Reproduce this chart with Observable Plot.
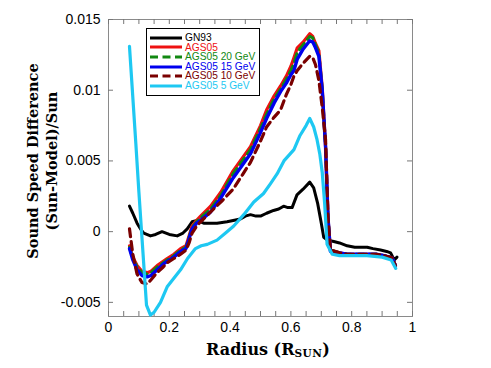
<!DOCTYPE html>
<html>
<head>
<meta charset="utf-8">
<script src="https://cdn.jsdelivr.net/npm/d3@7"></script>
<script src="https://cdn.jsdelivr.net/npm/@observablehq/plot@0.6"></script>
<style>
  body { margin: 0; background: white; }
  #wrap { position: relative; width: 491px; height: 368px; overflow: hidden; }
  #xlabel { position: absolute; left: 148px; width: 240px; top: 340px; text-align: center;
    font: bold 16px "DejaVu Serif", serif; color: #000; }
  #xlabel .sub { font-size: 10.5px; letter-spacing: 0.5px; vertical-align: -2px; }
  #legend { position: absolute; left: 146px; top: 28px; width: 112px; height: 62px;
    border: 1px solid #000; background: white; box-sizing: content-box; padding-top: 4px; }
  .row { display: flex; align-items: center; height: 9.6px; line-height: 9.6px; overflow: visible;
    font: 10.2px/9.6px "Liberation Sans", Arial, sans-serif; }
  .row span { line-height: 9.6px; height: 9.6px; display: block; }
  .row svg { margin-left: 3px; margin-right: 3px; }
</style>
</head>
<body>
<div id="wrap"></div>
<script>
// ---- data ----
const seriesNames = ["GN93", "AGS05", "AGS05 20 GeV", "AGS05 15 GeV", "AGS05 10 GeV", "AGS05 5 GeV"];

const rGN93 = [0.069, 0.08, 0.094, 0.105, 0.116, 0.138, 0.155, 0.176, 0.2, 0.226, 0.245, 0.259, 0.275, 0.292, 0.313, 0.357, 0.39, 0.434, 0.45, 0.467, 0.485, 0.5, 0.52, 0.543, 0.56, 0.576, 0.59, 0.604, 0.62, 0.64, 0.662, 0.675, 0.688, 0.70, 0.708, 0.72, 0.741, 0.76, 0.785, 0.81, 0.83, 0.851, 0.87, 0.895, 0.915, 0.928, 0.94, 0.949];
const vGN93 = [0.0018, 0.0013, 0.0006, 0.0002, -0.0001, -0.0003, -0.0002, 0.0000, -0.0002, -0.0003, -0.0001, 0.0002, 0.0007, 0.0008, 0.0006, 0.0006, 0.0007, 0.0009, 0.0011, 0.0012, 0.0011, 0.0011, 0.0013, 0.0015, 0.0016, 0.0018, 0.0017, 0.0017, 0.0026, 0.0030, 0.0035, 0.0031, 0.0020, 0.0006, -0.0004, -0.0006, -0.0007, -0.0008, -0.0010, -0.0011, -0.0011, -0.0011, -0.0012, -0.0013, -0.0014, -0.0015, -0.0020, -0.0018];

const rAGS = [0.069, 0.08, 0.094, 0.11, 0.127, 0.14, 0.16, 0.18, 0.193, 0.215, 0.237, 0.255, 0.265, 0.275, 0.29, 0.303, 0.336, 0.37, 0.41, 0.44, 0.467, 0.5, 0.52, 0.545, 0.566, 0.585, 0.6, 0.61, 0.621, 0.64, 0.662, 0.672, 0.681, 0.692, 0.703, 0.714, 0.722, 0.73, 0.76, 0.785, 0.82, 0.851, 0.88, 0.906, 0.933, 0.944];
const vAGS05 = [-0.0010, -0.0018, -0.0024, -0.0028, -0.0029, -0.0028, -0.0024, -0.0021, -0.0019, -0.0016, -0.0012, -0.0010, -0.0003, 0.0004, 0.0008, 0.0011, 0.0018, 0.0028, 0.0043, 0.0052, 0.0060, 0.0075, 0.0086, 0.0096, 0.0103, 0.0110, 0.0117, 0.0123, 0.0130, 0.0134, 0.0140, 0.0138, 0.0133, 0.0128, 0.0102, 0.0060, 0.0010, -0.0013, -0.0015, -0.0016, -0.0016, -0.0016, -0.0016, -0.0017, -0.00185, -0.0024];
const v20GeV = [-0.0011, -0.0019, -0.0025, -0.0029, -0.0030, -0.0029, -0.0025, -0.0022, -0.0020, -0.0017, -0.0013, -0.0011, -0.0004, 0.0003, 0.0007, 0.0010, 0.0016, 0.0026, 0.0041, 0.0050, 0.0058, 0.0073, 0.0083, 0.0094, 0.0101, 0.0108, 0.0114, 0.0119, 0.0127, 0.0132, 0.0138, 0.0137, 0.0132, 0.0126, 0.0101, 0.0060, 0.0010, -0.0013, -0.0015, -0.0016, -0.0016, -0.0016, -0.0016, -0.0017, -0.00185, -0.0024];
const v15GeV = [-0.0012, -0.0020, -0.0027, -0.0031, -0.0032, -0.0031, -0.0027, -0.0023, -0.0021, -0.0018, -0.0014, -0.0012, -0.0005, 0.0002, 0.0006, 0.0008, 0.0014, 0.0024, 0.0038, 0.0047, 0.0055, 0.0070, 0.0080, 0.0091, 0.0099, 0.0105, 0.0111, 0.0114, 0.0122, 0.0129, 0.0135, 0.0134, 0.0130, 0.0124, 0.0100, 0.0060, 0.0010, -0.0014, -0.0015, -0.0016, -0.0016, -0.0016, -0.0016, -0.0017, -0.00185, -0.0024];
const v10GeV = [0.0002, -0.0016, -0.0030, -0.0036, -0.0037, -0.0034, -0.0029, -0.0025, -0.0022, -0.0019, -0.0016, -0.0013, -0.0008, -0.0001, 0.0004, 0.0007, 0.0014, 0.0021, 0.0030, 0.0040, 0.0049, 0.0064, 0.0074, 0.0081, 0.0086, 0.0097, 0.0104, 0.0110, 0.0114, 0.0119, 0.0124, 0.0123, 0.0118, 0.0107, 0.0088, 0.0065, 0.0010, -0.0013, -0.0015, -0.0016, -0.0016, -0.0016, -0.0016, -0.0017, -0.00185, -0.0024];

const r5GeV = [0.069, 0.08, 0.09, 0.10, 0.11, 0.125, 0.138, 0.15, 0.171, 0.193, 0.215, 0.237, 0.26, 0.286, 0.305, 0.325, 0.357, 0.385, 0.412, 0.445, 0.478, 0.51, 0.533, 0.555, 0.577, 0.61, 0.63, 0.65, 0.662, 0.675, 0.686, 0.695, 0.703, 0.711, 0.719, 0.736, 0.76, 0.8, 0.85, 0.9, 0.93, 0.945];
const v5GeV = [0.0131, 0.0095, 0.0062, 0.0028, -0.0004, -0.0052, -0.0059, -0.0057, -0.0050, -0.0039, -0.0033, -0.0027, -0.0019, -0.0012, -0.0010, -0.0009, -0.0006, -0.0001, 0.0004, 0.0012, 0.0021, 0.0027, 0.0034, 0.0041, 0.0050, 0.0058, 0.0068, 0.0075, 0.0080, 0.0074, 0.0065, 0.0055, 0.0042, 0.0020, -0.0009, -0.0016, -0.0017, -0.0017, -0.0017, -0.0018, -0.0020, -0.0026];

const xTickLabels = [0, 0.2, 0.4, 0.6, 0.8, 1];
const yTickLabels = [-0.005, 0, 0.005, 0.01, 0.015];

// ---- styles ----
const colors = ["#000000", "#ee1111", "#118811", "#0000ee", "#7a0000", "#1ec8f2"];
const dashes = [null, null, "8,5", null, "8,5", null];
const widths = [3, 3.2, 3, 3.4, 3.2, 3.2];

const seriesData = [
  [rGN93, vGN93], [rAGS, vAGS05], [rAGS, v20GeV], [rAGS, v15GeV], [rAGS, v10GeV], [r5GeV, v5GeV]
];
const rows = seriesData.map(([r, v], i) => r.map((x, j) => ({series: seriesNames[i], r: x, v: v[j]})));

const minorX = d3.range(0, 1.0001, 0.05);

const W = 491, H = 368, mL = 108, mR = 79, mT = 19, mB = 52;
const pw = W - mL - mR, ph = H - mT - mB;

const chart = Plot.plot({
  width: W, height: H,
  marginLeft: mL, marginRight: mR, marginTop: mT, marginBottom: mB,
  x: {domain: [0, 1]},
  y: {domain: [-0.006, 0.015]},
  style: {fontFamily: "'Liberation Sans', Arial, sans-serif", fontSize: "14px", background: "white", color: "#000"},
  marks: [
    Plot.frame({stroke: "#8a8a8a"}),
    Plot.tickX(minorX, {x: d => d, insetTop: ph - 5, stroke: "#777"}),
    Plot.tickX(minorX, {x: d => d, insetBottom: ph - 5, stroke: "#777"}),
    Plot.tickY(yTickLabels, {y: d => d, insetRight: pw - 5, stroke: "#777"}),
    Plot.tickY(yTickLabels, {y: d => d, insetLeft: pw - 5, stroke: "#777"}),
    Plot.axisX({ticks: xTickLabels, tickSize: 0, tickPadding: 6, tickFormat: d => String(d), label: null}),
    Plot.axisY({ticks: yTickLabels, tickSize: 0, tickPadding: 8, tickFormat: d => String(d), label: null}),
    ...rows.map((data, i) => Plot.line(data, {
      x: "r", y: "v", stroke: colors[i], strokeWidth: widths[i],
      strokeDasharray: dashes[i] || undefined, curve: "linear", strokeLinejoin: "round"
    })),
    Plot.text(["Sound Speed Difference\n(Sun-Model)/Sun"], {
      text: d => d, frameAnchor: "left", textAnchor: "middle", lineAnchor: "middle", rotate: -90, dx: -67, dy: -7,
      fontFamily: "'DejaVu Serif', serif", fontWeight: "bold", fontSize: 14.5, lineHeight: 1.3, fill: "#000"
    })
  ]
});

const wrap = document.getElementById("wrap");
wrap.appendChild(chart);

const xl = document.createElement("div");
xl.id = "xlabel";
xl.innerHTML = 'Radius (R<span class="sub">SUN</span>)';
wrap.appendChild(xl);

const lg = document.createElement("div");
lg.id = "legend";
seriesNames.forEach((name, i) => {
  const row = document.createElement("div");
  row.className = "row";
  row.style.color = colors[i];
  row.innerHTML = `<svg width="32" height="6"><line x1="0" x2="32" y1="3" y2="3" stroke="${colors[i]}" stroke-width="3" ${dashes[i] ? `stroke-dasharray="8,4.5"` : ""}/></svg><span>${name}</span>`;
  lg.appendChild(row);
});
wrap.appendChild(lg);
</script>
</body>
</html>
